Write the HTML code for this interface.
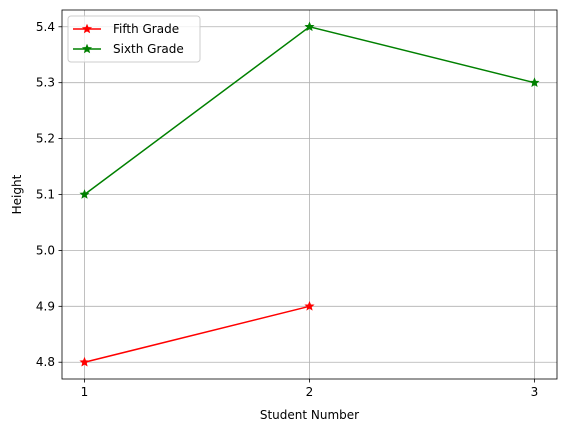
<!DOCTYPE html>
<html><head><meta charset="utf-8"><style>
body{margin:0;background:#fff;}
svg text{font-family:"DejaVu Sans","Liberation Sans",sans-serif;font-size:12px;fill:#000;}
</style></head><body>
<svg id="chart" width="567" height="432" xmlns="http://www.w3.org/2000/svg"></svg>
<script>
const categories=[1,2,3];
const fifthGrade=[4.8,4.9];
const sixthGrade=[5.1,5.4,5.3];
const yTicks=[4.8,4.9,5.0,5.1,5.2,5.3,5.4];
const xTicks=[1,2,3];
const L=62,R=557,T=10,B=379;
const xmin=0.9,xmax=3.1,ymin=4.77,ymax=5.43;
const sx=v=>L+(v-xmin)/(xmax-xmin)*(R-L);
const sy=v=>B-(v-ymin)/(ymax-ymin)*(B-T);
const svg=document.getElementById('chart');
const NS='http://www.w3.org/2000/svg';
function mk(tag,attrs,parent){const e=document.createElementNS(NS,tag);for(const k in attrs)e.setAttribute(k,attrs[k]);(parent||svg).appendChild(e);return e;}
const grid=mk('g',{});


xTicks.forEach(t=>{
  const x=sx(t);
  const l=mk('line',{x1:x,x2:x,y1:T,y2:B,stroke:'#b0b0b0','stroke-width':0.8},grid);
  
  
  mk('line',{x1:x,x2:x,y1:B,y2:B+3.5,stroke:'#000','stroke-width':0.8});
  const tx=mk('text',{x:x,y:B+17,'text-anchor':'middle'});tx.textContent=t;
  
  
});
yTicks.forEach(t=>{
  const y=sy(t);
  const l=mk('line',{x1:L,x2:R,y1:y,y2:y,stroke:'#b0b0b0','stroke-width':0.8},grid);
  
  
  mk('line',{x1:L-3.5,x2:L,y1:y,y2:y,stroke:'#000','stroke-width':0.8});
  const tx=mk('text',{x:L-7,y:y+4,'text-anchor':'end'});tx.textContent=t.toFixed(1);
  
  
});
function star(cx,cy,r){let p=[];for(let i=0;i<10;i++){const a=-Math.PI/2+i*Math.PI/5;const rr=i%2?r*0.45:r;p.push((cx+rr*Math.cos(a)).toFixed(2)+','+(cy+rr*Math.sin(a)).toFixed(2));}return p.join(' ');}
function series(vals,color,name){
  const g=mk('g',{});
  
  
  mk('polyline',{points:vals.map((v,i)=>sx(categories[i])+','+sy(v)).join(' '),fill:'none',stroke:color,'stroke-width':1.5},g);
  vals.forEach((v,i)=>{const m=mk('polygon',{points:star(sx(categories[i]),sy(v),4),fill:color,stroke:color,'stroke-width':1},g);
    
    });
}
series(fifthGrade,'#ff0000','fifth-grade-series');
series(sixthGrade,'#008000','sixth-grade-series');
mk('rect',{x:L,y:T,width:R-L,height:B-T,fill:'none',stroke:'#000','stroke-width':0.8});
const xl=mk('text',{x:(L+R)/2,y:419,'text-anchor':'middle'});xl.textContent='Student Number';


const yl=mk('text',{x:21,y:(T+B)/2,'text-anchor':'middle',transform:`rotate(-90 21 ${(T+B)/2})`});yl.textContent='Height';


const lg=mk('g',{});


mk('rect',{x:68,y:16,width:132,height:46,rx:3,fill:'#fff','fill-opacity':0.8,stroke:'#ccc'},lg);
[['Fifth Grade','#ff0000',29],['Sixth Grade','#008000',49]].forEach(([n,c,y])=>{
  const e=mk('g',{},lg);
  
  
  mk('line',{x1:73,x2:101,y1:y,y2:y,stroke:c,'stroke-width':1.5},e);
  mk('polygon',{points:star(87,y,4),fill:c,stroke:c},e);
  const t=mk('text',{x:113,y:y+4},e);t.textContent=n;
});
</script>
</body></html>
